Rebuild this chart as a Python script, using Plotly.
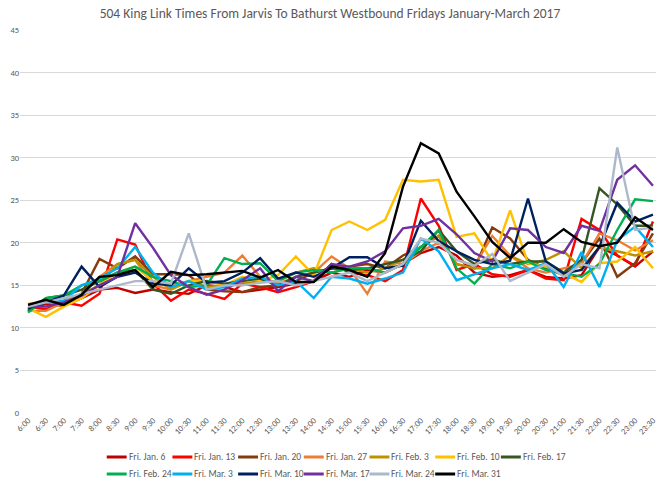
import plotly.graph_objects as go

times = ["6:00","6:30","7:00","7:30","8:00","8:30","9:00","9:30","10:00","10:30","11:00","11:30",
         "12:00","12:30","13:00","13:30","14:00","14:30","15:00","15:30","16:00","16:30","17:00","17:30",
         "18:00","18:30","19:00","19:30","20:00","20:30","21:00","21:30","22:00","22:30","23:00","23:30"]

jan6  = [12.2,12.8,12.6,13.5,14.5,14.7,14.1,14.5,14.2,14.0,15.0,14.8,14.2,14.5,14.8,15.2,15.5,16.5,16.0,16.8,16.5,17.5,18.8,19.5,18.5,16.5,16.0,16.2,16.8,16.0,15.8,16.2,19.5,18.5,17.2,19.0]
jan13 = [12.5,12.2,13.0,12.6,14.0,20.4,19.8,15.2,13.2,14.5,14.0,13.4,15.2,14.8,14.2,14.8,15.5,17.5,16.5,16.2,15.5,16.8,25.2,22.0,16.8,17.5,16.3,16.0,16.8,15.8,15.6,22.8,21.5,18.5,17.3,22.5]
jan20 = [12.0,13.2,13.0,14.0,18.1,17.0,18.4,16.3,16.3,16.2,14.5,14.3,14.2,14.8,15.0,15.5,16.5,17.0,17.2,17.5,17.0,18.5,19.5,20.8,17.5,17.0,21.8,20.5,18.0,17.0,16.2,17.6,20.5,16.0,17.6,21.1]
jan27 = [12.0,12.0,13.0,14.0,16.0,17.5,18.0,15.0,14.5,15.5,16.0,16.5,18.5,16.0,15.2,16.0,16.5,18.4,17.0,14.0,17.8,17.5,19.0,20.0,18.0,17.3,20.8,18.5,17.0,16.5,17.0,17.5,21.1,20.3,19.1,20.3]
feb3  = [12.8,13.0,12.8,14.0,15.0,17.5,18.0,16.0,14.5,15.5,14.8,15.0,15.2,15.5,15.5,16.5,17.0,16.5,17.0,16.5,17.0,18.0,19.5,20.8,17.5,17.0,17.0,18.5,17.5,18.0,19.0,17.0,19.5,19.0,18.5,19.0]
feb10 = [12.3,11.3,12.5,13.5,15.0,16.5,17.2,15.5,15.0,15.5,15.5,15.0,16.0,15.5,16.2,18.4,16.2,21.5,22.5,21.5,22.7,27.4,27.2,27.4,20.7,21.1,17.8,23.8,17.6,17.2,16.4,15.4,17.6,17.8,19.5,17.0]
feb17 = [12.0,13.5,13.8,14.5,15.5,16.5,16.8,14.5,14.0,15.0,15.5,15.2,15.5,15.8,15.0,16.0,16.5,17.0,16.8,17.0,17.5,18.0,19.0,21.5,19.0,17.5,18.0,17.5,17.8,17.8,16.5,18.0,26.4,24.5,22.0,22.0]
feb24 = [11.8,13.5,13.8,15.0,15.5,16.5,17.2,16.0,15.5,14.8,15.0,18.2,17.5,17.6,15.5,16.5,16.8,16.5,17.0,17.0,16.5,17.5,19.5,21.5,17.0,15.2,17.5,17.0,17.8,16.8,16.5,16.0,17.5,21.5,25.1,24.9]
mar3  = [12.5,13.0,13.2,15.0,15.8,17.0,19.5,16.5,14.8,15.5,14.5,14.8,15.8,16.0,15.0,15.5,13.5,16.0,15.8,15.2,15.8,16.5,20.5,19.0,15.6,16.3,17.0,17.5,16.8,17.6,14.8,18.9,14.8,20.3,21.9,19.5]
mar10 = [12.3,13.0,13.8,17.2,14.8,16.0,16.5,15.2,15.0,17.0,15.3,15.5,16.5,18.2,15.8,16.5,16.0,17.0,18.3,18.3,17.0,17.3,22.6,20.2,19.0,18.0,17.5,17.9,25.2,17.8,16.4,16.8,19.5,24.7,22.5,23.3]
mar17 = [12.5,12.5,13.0,13.8,15.0,16.0,22.3,19.4,16.2,14.8,13.9,14.5,15.6,17.0,14.3,16.0,15.5,17.5,17.2,17.8,19.0,21.7,22.0,22.8,21.0,18.8,17.8,21.7,21.5,19.5,18.8,22.0,21.4,27.4,29.1,26.7]
mar24 = [12.5,13.0,13.5,14.0,14.5,15.0,15.5,15.5,15.2,21.1,14.5,15.0,15.0,15.3,15.5,15.0,15.5,16.0,16.5,15.5,16.5,17.5,20.5,20.0,18.0,17.3,18.7,15.5,16.5,17.5,16.0,17.5,17.0,31.2,21.5,21.8]
mar31 = [12.7,13.3,12.7,13.9,16.0,16.2,16.8,14.8,16.6,16.2,16.3,16.5,16.7,15.9,16.8,15.4,15.4,17.2,16.8,16.0,18.8,26.6,31.7,30.5,26.0,23.1,20.1,18.2,20.0,20.0,21.6,20.1,19.6,20.0,23.0,21.5]

series_names = ["Fri. Jan. 6","Fri. Jan. 13","Fri. Jan. 20","Fri. Jan. 27","Fri. Feb. 3","Fri. Feb. 10","Fri. Feb. 17",
                "Fri. Feb. 24","Fri. Mar. 3","Fri. Mar. 10","Fri. Mar. 17","Fri. Mar. 24","Fri. Mar. 31"]
series_values = [jan6, jan13, jan20, jan27, feb3, feb10, feb17, feb24, mar3, mar10, mar17, mar24, mar31]
series_colors = ["#C00000","#FF0000","#843C0C","#ED7D31","#BF9000","#FFC000","#375623",
                 "#00B050","#00B0F0","#002060","#7030A0","#ADB9CA","#000000"]

W, H = 660, 483
ML, MR, MT, MB = 20, 2, 30, 70
PW, PH = W - ML - MR, H - MT - MB
font_family = "Carlito, Lato, Open Sans, sans-serif"
grey_text = "#595959"

fig = go.Figure()
for name, vals, col in zip(series_names, series_values, series_colors):
    fig.add_trace(go.Scatter(x=list(range(len(times))), y=vals, name=name, mode="lines",
                             line=dict(color=col, width=2.4), showlegend=False))

# Custom legend (7 entries per row, Excel-like short swatches)
def px2paper_x(px):
    return (px - ML) / PW

def px2paper_y(py):
    return (H - MB - py) / PH

shapes, annots = [], []
leg_x0, leg_pitch, leg_rows_y, sw = 107, 65.9, [457, 474], 20
for k, (name, col) in enumerate(zip(series_names, series_colors)):
    row, c = divmod(k, 7)
    x0 = leg_x0 + c * leg_pitch
    y = leg_rows_y[row]
    shapes.append(dict(type="line", xref="paper", yref="paper",
                       x0=px2paper_x(x0), x1=px2paper_x(x0 + sw),
                       y0=px2paper_y(y), y1=px2paper_y(y),
                       line=dict(color=col, width=3)))
    annots.append(dict(text=name, xref="paper", yref="paper", x=px2paper_x(x0 + sw),
                       y=px2paper_y(y), xanchor="left", yanchor="middle", showarrow=False,
                       font=dict(family=font_family, size=9.5, color=grey_text)))

fig.update_layout(
    width=W, height=H,
    margin=dict(l=ML, r=MR, t=MT, b=MB),
    paper_bgcolor="white", plot_bgcolor="white",
    title=dict(text="504 King Link Times From Jarvis To Bathurst Westbound Fridays January-March 2017",
               x=0.5, xanchor="center", yref="container", y=1 - 13/H, yanchor="middle",
               font=dict(family=font_family, size=13.5, color=grey_text)),
    xaxis=dict(range=[-0.45, 35.17], tickmode="array", tickvals=list(range(len(times))), ticktext=times,
               tickangle=-45, showgrid=False, showline=False, ticks="",
               tickfont=dict(family=font_family, size=8.5, color=grey_text), zeroline=False),
    yaxis=dict(range=[0, 45], dtick=5, showgrid=True, gridcolor="#D9D9D9", gridwidth=1,
               zeroline=False, showline=False, ticks="",
               tickfont=dict(family=font_family, size=8.5, color=grey_text)),
    shapes=shapes, annotations=annots,
    showlegend=False,
)
fig.write_html("out.html", config={"displayModeBar": False},
               post_script="document.body.style.margin='0';document.body.style.overflow='hidden';")
